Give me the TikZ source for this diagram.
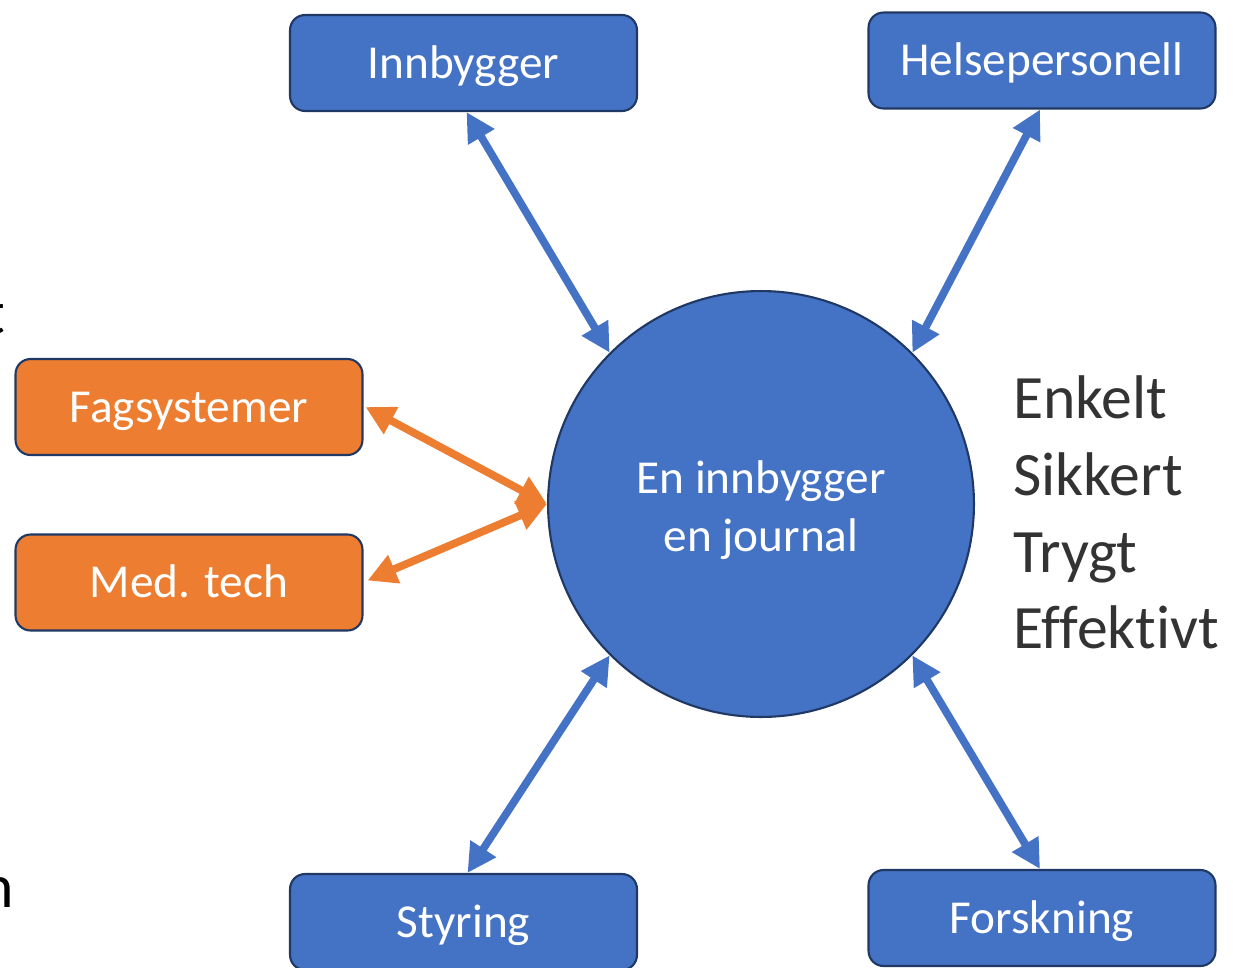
\documentclass[tikz,border=0pt]{standalone}
\usepackage{fontspec}
\setmainfont[Ligatures=NoCommon]{Carlito}
\usetikzlibrary{arrows.meta}
\definecolor{cblue}{HTML}{4472C4}
\definecolor{corange}{HTML}{ED7D31}
\definecolor{cborder}{HTML}{1F3864}
\definecolor{ctext}{HTML}{333333}
\tikzset{
  boxbase/.style={draw=cborder, line width=1.2pt, rounded corners=0.3cm,
    minimum width=6.94cm, minimum height=1.92cm, inner sep=0pt,
    text=white, font=\fontsize{26.9}{32}\selectfont, text height=17.3pt, text depth=0pt},
  bluebox/.style={boxbase, fill=cblue},
  orangebox/.style={boxbase, fill=corange},
  hub/.style={circle, draw=cborder, line width=1.2pt, fill=cblue, minimum size=8.52cm,
    inner sep=0pt},
  hubtext/.style={inner sep=0pt, text=white, align=center, font=\fontsize{26.9}{32.8}\selectfont},
  bluearrow/.style={draw=cblue, line width=4.4pt,
    {Triangle[length=0.58cm,width=0.58cm]}-{Triangle[length=0.58cm,width=0.58cm]}},
  orangearrow/.style={draw=corange, line width=4.4pt,
    {Triangle[length=0.58cm,width=0.58cm]}-{Triangle[length=0.58cm,width=0.58cm]}},
  sidetext/.style={anchor=base west, inner sep=0pt, text=ctext, font=\fontsize{35.1}{42}\selectfont},
  fragtext/.style={anchor=base east, inner sep=0pt, text=black, font=\fontsize{35.1}{42}\selectfont}
}
\begin{document}
\begin{tikzpicture}[x=0.02cm, y=-0.02cm]
\useasboundingbox (0,0) rectangle (1233,967);
% nodes
\node[bluebox] (innb) at (463.5,63) {Innbygger};
\node[bluebox] (helse) at (1042,60.5) {Helsepersonell};
\node[orangebox] (fag) at (189,407) {Fagsystemer};
\node[orangebox] (med) at (189,582.5) {Med. tech};
\node[bluebox] (styr) at (463.5,922) {Styring};
\node[bluebox] (forsk) at (1042,918) {Forskning};
\node[hub] (hub) at (761,504) {};
\node[hubtext] (hubt) at (761,510) {En innbygger\\en journal};
% side text
\node[sidetext] (t1) at (1013,418) {Enkelt};
\node[sidetext] (t2) at (1013,495) {Sikkert};
\node[sidetext] (t3) at (1013,572) {Trygt};
\node[sidetext] (t4) at (1013,648) {Effektivt};
% clipped fragments at left edge
\node[fragtext] (f1) at (6,333) {t};
\node[fragtext] (f2) at (14,907) {n};
% connectors
\draw[bluearrow] ([xshift=0.06cm]innb.south) -- (hub.135);
\draw[bluearrow] ([xshift=-0.04cm]helse.south) -- (hub.45);
\draw[bluearrow] ([xshift=0.08cm]styr.north) -- (hub.225);
\draw[bluearrow] ([xshift=-0.04cm]forsk.north) -- (hub.315);
\draw[orangearrow] ([xshift=0.04cm]fag.east) -- (hub.west);
\draw[orangearrow] ([xshift=0.08cm,yshift=0.04cm]med.east) -- (hub.west);
\end{tikzpicture}
\end{document}
